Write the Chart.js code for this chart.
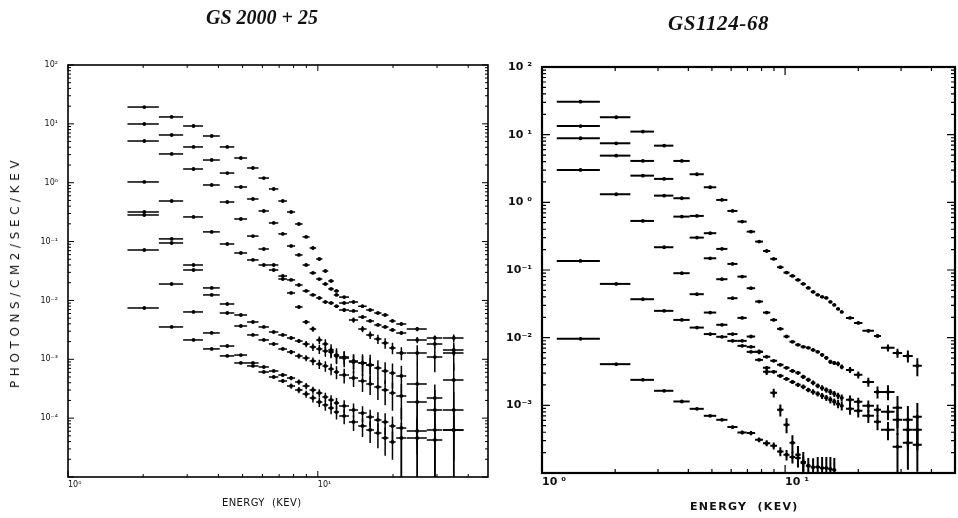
<!DOCTYPE html>
<html>
<head>
<meta charset="utf-8">
<title>Ginga LAC spectra</title>
<script src="https://cdn.jsdelivr.net/npm/chart.js@4.4.1/dist/chart.umd.min.js"></script>
<style>
    html, body { margin: 0; padding: 0; background: #fff; }
    #wrap { position: relative; width: 958px; height: 518px; overflow: hidden; color: #111; }
    canvas { position: absolute; top: 0; }
    #leftChart { left: 0; }
    #rightChart { left: 490px; }
    .title { position: absolute; font: italic bold 20px "Liberation Serif", serif; white-space: nowrap; }
    .axis-title { position: absolute; font-family: "DejaVu Sans", sans-serif; white-space: nowrap; }
</style>
</head>
<body>
<div id="wrap">
    <canvas id="leftChart" width="490" height="518"></canvas>
    <canvas id="rightChart" width="468" height="518"></canvas>
    <div class="title" style="left:206px; top:6px;">GS 2000 + 25</div>
    <div class="title" style="left:668px; top:11px; font-size:21px; letter-spacing:0.6px;">GS1124-68</div>
    <div class="axis-title" style="left:15px; top:272px; font-size:12px; letter-spacing:4.6px; transform:translate(-50%,-50%) rotate(-90deg);">PHOTONS/CM2/SEC/KEV</div>
    <div class="axis-title" style="left:222px; top:497px; font-size:10px; letter-spacing:0.4px;">ENERGY&nbsp;&nbsp;(KEV)</div>
    <div class="axis-title" style="left:690px; top:500px; font-size:11px; font-weight:bold; letter-spacing:1.3px;">ENERGY&nbsp;&nbsp;(KEV)</div>
</div>

<script>
// ---------- GS 2000+25 : energy bins (keV) and photon fluxes ----------
const gsaEnergy = [2.02, 2.60, 3.18, 3.76, 4.34, 4.92, 5.50, 6.08, 6.66, 7.24, 7.82, 8.40, 8.98, 9.56,
    10.14, 10.72, 11.30, 11.88, 12.75, 13.9, 15.1, 16.2, 17.4, 18.6, 19.9, 21.6, 25.0, 29.4, 35.0];
const gsaHalfWidth = [0.29, 0.29, 0.29, 0.29, 0.29, 0.29, 0.29, 0.29, 0.29, 0.29, 0.29, 0.29, 0.29, 0.29,
    0.29, 0.29, 0.29, 0.29, 0.58, 0.58, 0.58, 0.58, 0.58, 0.58, 0.58, 1.0, 2.3, 2.1, 3.3];

const gsaFlux1 = [19.3, 13.1, 9.20, 6.22, 4.05, 2.63, 1.78, 1.20, 0.782, 0.489, 0.318, 0.199, 0.120, 0.0778,
    0.0506, 0.0316, 0.0214, 0.0145, 0.0114, 0.0094, 0.0080, 0.00688, 0.00612, 0.00566, 0.00448, 0.00398, 0.00327, 0.00230, 0.00230];
const gsaFlux2 = [9.95, 6.47, 4.05, 2.43, 1.46, 0.846, 0.529, 0.331, 0.207, 0.135, 0.0841, 0.0592, 0.0400, 0.0293,
    0.0231, 0.0190, 0.0157, 0.0124, 0.00905, 0.00662, 0.00523, 0.00448, 0.00383, 0.00354, 0.00315, 0.00280, 0.00213, 0.00182, 0.00144];
const gsaFlux3 = [5.11, 3.08, 1.71, 0.915, 0.470, 0.242, 0.124, 0.0748, 0.0400, 0.0231, 0.0134, 0.00774, 0.00430, 0.00327,
    0.00213, 0.00182, 0.00144, 0.00118, 0.00105, 0.000900, 0.000866, 0.000800, null, null, null, null, null, null, null];
const gsaFlux4 = [1.03, 0.489, 0.262, 0.146, 0.0910, 0.0640, 0.0487, 0.0400, 0.0329, 0.0260, 0.0223, 0.0183, 0.0145, 0.0124,
    0.0110, 0.0094, 0.00905, 0.0080, 0.00688, 0.00465, 0.00327, 0.00259, 0.00221, 0.00189, 0.00156, 0.00128, 0.00128, 0.00109, 0.00128];
const gsaFlux5 = [0.318, 0.111, 0.0400, 0.0163, 0.00870, 0.00566, 0.00430, 0.00354, 0.00291, 0.00259, 0.00230, 0.00205, 0.00182, 0.00162,
    0.00150, 0.00138, 0.00133, 0.00114, 0.00109, 0.000936, 0.000866, 0.000800, 0.000712, 0.000633, 0.000585, 0.000520, 0.000381, 0.000220, 0.000445];
const gsaFlux6 = [0.283, 0.0946, 0.0329, 0.0124, 0.00612, 0.00368, 0.00259, 0.00213, 0.00182, 0.00150, 0.00133, 0.00114, 0.00105, 0.000936,
    0.000832, 0.000770, 0.000685, 0.000609, 0.000541, 0.000481, 0.000428, 0.000381, 0.000338, 0.000301, 0.000268, 0.000238, 0.000188, 0.000138, 0.000138];
const gsaFlux7 = [0.0719, 0.0190, 0.00637, 0.00280, 0.00168, 0.00118, 0.000866, 0.000740, 0.000633, 0.000541, 0.000481, 0.000412, 0.000352, 0.000301,
    0.000268, 0.000229, 0.000204, 0.000181, 0.000161, 0.000138, 0.000122, 0.000105, 0.0000931, 0.0000861, 0.0000736, 0.0000681, 0.0000605, 0.0000630, 0.0000630];
const gsaFlux8 = [0.00744, 0.00354, 0.00213, 0.00150, 0.00114, 0.000866, 0.000770, 0.000609, 0.000500, 0.000428, 0.000352, 0.000301, 0.000257, 0.000220,
    0.000188, 0.000167, 0.000149, 0.000127, 0.000109, 0.0000861, 0.0000736, 0.0000630, 0.0000560, 0.0000460, 0.0000394, 0.0000460, 0.0000460, 0.0000426, 0.0000630];

// fractional 1-sigma errors (>= 1 means the lower bar runs off the axis)
const gsaErr1 = [0, 0, 0, 0, 0, 0, 0, 0, 0, 0, 0, 0, 0, 0, 0, 0, 0, 0, 0, 0.03, 0.03, 0.04, 0.04, 0.05, 0.05, 0.06, 0.08, 0.1, 0.15];
const gsaErr2 = [0, 0, 0, 0, 0, 0, 0, 0, 0, 0, 0, 0, 0, 0, 0, 0, 0, 0, 0.04, 0.04, 0.05, 0.05, 0.06, 0.06, 0.07, 0.08, 0.12, 0.15, 0.2];
const gsaErr3 = [0, 0, 0, 0, 0, 0, 0, 0, 0, 0, 0, 0.05, 0.08, 0.1, 0.15, 0.2, 0.25, 0.3, 0.3, 0.35, 0.4, 0.5, null, null, null, null, null, null, null];
const gsaErr4 = [0, 0, 0, 0, 0, 0, 0, 0, 0, 0, 0, 0, 0, 0, 0, 0, 0, 0.05, 0.08, 0.1, 0.12, 0.15, 0.18, 0.2, 0.22, 0.25, 0.35, 0.45, 0.5];
const gsaErr5 = [0, 0, 0, 0, 0, 0, 0, 0, 0, 0.05, 0.06, 0.08, 0.12, 0.15, 0.18, 0.2, 0.22, 0.25, 0.25, 0.28, 0.3, 0.3, 0.35, 0.4, 0.45, 0.5, 1.2, 0.7, 0.9];
const gsaErr6 = [0, 0, 0, 0, 0, 0, 0, 0, 0, 0.06, 0.08, 0.1, 0.12, 0.15, 0.18, 0.2, 0.22, 0.25, 0.28, 0.3, 0.35, 0.35, 0.4, 0.45, 0.5, 0.6, 0.8, 1.2, 1.0];
const gsaErr7 = [0, 0, 0, 0, 0, 0, 0, 0, 0.05, 0.06, 0.08, 0.1, 0.12, 0.14, 0.16, 0.18, 0.2, 0.22, 0.25, 0.28, 0.3, 0.32, 0.35, 0.4, 0.45, 1.2, 0.6, 1.1, 0.7];
const gsaErr8 = [0, 0, 0, 0, 0, 0, 0, 0.05, 0.06, 0.08, 0.1, 0.12, 0.14, 0.16, 0.18, 0.2, 0.22, 0.25, 0.28, 0.3, 0.35, 0.4, 0.45, 0.5, 0.5, 0.8, 1.3, 0.9, 1.2];

// ---------- GS 1124-68 ----------
const gsbEnergy = [1.44, 2.02, 2.60, 3.18, 3.76, 4.34, 4.92, 5.50, 6.08, 6.66, 7.24, 7.82, 8.40, 8.98,
    9.56, 10.14, 10.72, 11.30, 11.88, 12.46, 13.04, 13.62, 14.20, 14.78, 15.36, 15.94, 16.52, 17.10,
    18.5, 20.0, 22.0, 24.0, 26.5, 29.0, 32.0, 35.0];
const gsbHalfWidth = [0.29, 0.29, 0.29, 0.29, 0.29, 0.29, 0.29, 0.29, 0.29, 0.29, 0.29, 0.29, 0.29, 0.29,
    0.29, 0.29, 0.29, 0.29, 0.29, 0.29, 0.29, 0.29, 0.29, 0.29, 0.29, 0.29, 0.29, 0.29,
    0.7, 0.8, 1.2, 0.8, 1.7, 1.3, 1.5, 1.5];

const gsbFlux1 = [30.7, 18.1, 11.1, 6.88, 4.09, 2.60, 1.67, 1.085, 0.746, 0.519, 0.369, 0.263, 0.191, 0.146,
    0.110, 0.0915, 0.0818, 0.0714, 0.0623, 0.0544, 0.0475, 0.0429, 0.0401, 0.0387, 0.0338, 0.0305, 0.0266, 0.0240,
    0.0196, 0.0165, 0.0126, 0.0106, 0.00707, 0.00596, 0.00538, 0.00383];
const gsbFlux2 = [13.4, 7.46, 4.09, 2.22, 1.15, 0.630, 0.350, 0.205, 0.123, 0.0799, 0.0538, 0.0342, 0.0235, 0.0183,
    0.0135, 0.0104, 0.00867, 0.00783, 0.00731, 0.00707, 0.00660, 0.00617, 0.00557, 0.00503, 0.00439, 0.00424, 0.00410, 0.00370,
    0.00334, 0.00282, 0.00222, 0.00158, 0.00158, 0.000918, 0.000611, 0.000676];
const gsbFlux3 = [8.85, 4.90, 2.48, 1.256, 0.615, 0.301, 0.149, 0.0731, 0.0383, 0.0196, 0.0104, 0.00617, 0.00313, 0.00153,
    0.000858, 0.000515, 0.000279, 0.000186, 0.000146, null, null, null, null, null, null, null, null, null,
    null, null, null, null, null, null, null, null];
const gsbFlux4 = [3.01, 1.317, 0.531, 0.217, 0.0897, 0.0439, 0.0235, 0.0155, 0.0113, 0.00897, 0.00731, 0.00617, 0.00521, 0.00454,
    0.00397, 0.00358, 0.00323, 0.00302, 0.00264, 0.00238, 0.00215, 0.00194, 0.00181, 0.00169, 0.00158, 0.00148, 0.00138, 0.00129,
    0.00121, 0.00113, 0.000983, 0.000858, 0.000802, 0.000611, 0.000435, 0.000435];
const gsbFlux5 = [0.136, 0.0623, 0.0370, 0.0249, 0.0183, 0.0141, 0.0113, 0.0103, 0.00897, 0.00757, 0.00617, 0.00470, 0.00358, 0.00313,
    0.00273, 0.00246, 0.00222, 0.00201, 0.00188, 0.00169, 0.00158, 0.00148, 0.00138, 0.00129, 0.00121, 0.00113, 0.00105, 0.000983,
    0.000888, 0.000829, 0.000700, 0.000571, 0.000435, 0.000244, 0.000279, 0.000261];
const gsbFlux6 = [0.00960, 0.00406, 0.00238, 0.00164, 0.00114, 0.000888, 0.000700, 0.000611, 0.000477, 0.000397, 0.000389, 0.000309, 0.000276, 0.000252,
    0.000208, 0.000186, 0.000172, 0.000166, 0.000140, 0.000128, 0.000122, 0.000123, 0.000119, 0.000119, 0.000115, 0.000111, null, null,
    null, null, null, null, null, null, null, null];

const gsbErr1 = [0, 0, 0, 0, 0, 0, 0, 0, 0, 0, 0, 0, 0, 0, 0, 0, 0, 0, 0, 0, 0, 0, 0, 0, 0, 0, 0, 0,
    0.03, 0.04, 0.05, 0.06, 0.12, 0.15, 0.2, 0.3];
const gsbErr2 = [0, 0, 0, 0, 0, 0, 0, 0, 0, 0, 0, 0, 0, 0, 0, 0, 0.03, 0.03, 0.04, 0.04, 0.05, 0.05, 0.06, 0.06, 0.07, 0.07, 0.08, 0.08,
    0.1, 0.12, 0.15, 0.2, 0.25, 0.5, 0.6, 0.6];
const gsbErr3 = [0, 0, 0, 0, 0, 0, 0, 0, 0, 0, 0, 0.08, 0.1, 0.15, 0.2, 0.25, 0.3, 0.35, 0.4, null, null, null, null, null, null, null, null, null,
    null, null, null, null, null, null, null, null];
const gsbErr4 = [0, 0, 0, 0, 0, 0, 0, 0, 0, 0, 0, 0, 0.04, 0.04, 0.05, 0.05, 0.06, 0.06, 0.07, 0.07, 0.08, 0.08, 0.09, 0.09, 0.1, 0.1, 0.11, 0.12,
    0.15, 0.15, 0.2, 0.2, 0.25, 0.4, 0.5, 0.5];
const gsbErr5 = [0, 0, 0, 0, 0, 0, 0, 0, 0, 0, 0, 0, 0.05, 0.05, 0.06, 0.06, 0.07, 0.07, 0.08, 0.08, 0.09, 0.09, 0.1, 0.1, 0.12, 0.12, 0.14, 0.15,
    0.18, 0.2, 0.22, 0.25, 0.3, 0.6, 0.6, 0.6];
const gsbErr6 = [0, 0, 0, 0, 0, 0, 0, 0, 0.05, 0.06, 0.07, 0.08, 0.1, 0.12, 0.15, 0.18, 0.2, 0.22, 0.25, 0.3, 0.35, 0.4, 0.45, 0.45, 0.5, 0.5, null, null,
    null, null, null, null, null, null, null, null];

// axis ticks that carry a label
const gsaYLabels = [1e-4, 1e-3, 1e-2, 1e-1, 1, 10, 100];
const gsbYLabels = [1e-3, 1e-2, 1e-1, 1, 10, 100];
const energyLabels = [1, 10];

const SUP = { '-': '\u207B', '0': '\u2070', '1': '\u00B9', '2': '\u00B2', '3': '\u00B3',
    '4': '\u2074', '5': '\u2075', '6': '\u2076', '7': '\u2077', '8': '\u2078', '9': '\u2079' };

// "10" followed by a superscript exponent
function powerLabel(value, spaced) {
    const e = Math.round(Math.log10(value));
    const exp = String(e).split('').map(c => SUP[c]).join('');
    return '10' + (spaced && e >= 0 ? ' ' : '') + exp;
}

// one spectrum: a dot per bin, the bin width and the error bar come from the plugin below
function spectrum(energy, halfWidth, flux, err) {
    return {
        data: energy.map((e, i) => ({ x: e, y: flux[i] })),
        halfWidth: halfWidth,
        relErr: err,
        showLine: false,
        pointRadius: 1.9,
        pointHoverRadius: 1.9,
        pointBorderWidth: 0,
        backgroundColor: '#000',
        borderColor: '#000'
    };
}

// horizontal bin bars and vertical error bars
const binBars = {
    id: 'binBars',
    afterDatasetsDraw(chart, args, opts) {
        const { ctx, chartArea: a, scales: { x, y } } = chart;
        ctx.save();
        ctx.beginPath();
        ctx.rect(a.left, a.top, a.right - a.left, a.bottom - a.top);
        ctx.clip();
        ctx.strokeStyle = '#000';
        ctx.lineWidth = opts.width;
        chart.data.datasets.forEach(ds => {
            ds.data.forEach((p, i) => {
                if (p.y == null) return;
                const hw = ds.halfWidth[i];
                const r = ds.relErr[i] || 0;
                const py = y.getPixelForValue(p.y);
                ctx.beginPath();
                ctx.moveTo(x.getPixelForValue(p.x - hw), py);
                ctx.lineTo(x.getPixelForValue(p.x + hw), py);
                if (r > 0) {
                    const px = x.getPixelForValue(p.x);
                    const low = r >= 1 ? a.bottom : y.getPixelForValue(p.y * (1 - r));
                    ctx.moveTo(px, y.getPixelForValue(p.y * (1 + r)));
                    ctx.lineTo(px, low);
                }
                ctx.stroke();
            });
        });
        ctx.restore();
    }
};

// closed frame with inward major/minor ticks on all four sides
const frameTicks = {
    id: 'frameTicks',
    afterDraw(chart, args, opts) {
        const { ctx, chartArea: a, scales: { x, y } } = chart;
        ctx.save();
        ctx.strokeStyle = '#000';
        ctx.lineWidth = opts.frame;
        ctx.strokeRect(a.left, a.top, a.right - a.left, a.bottom - a.top);
        ctx.lineWidth = opts.tick;
        ctx.beginPath();
        const logTicks = (scale, draw) => {
            for (let d = Math.floor(Math.log10(scale.min)); d <= Math.ceil(Math.log10(scale.max)); d++) {
                for (let m = 1; m <= 9; m++) {
                    const v = m * Math.pow(10, d);
                    if (v < scale.min * 0.999 || v > scale.max * 1.001) continue;
                    draw(scale.getPixelForValue(v), m === 1 ? opts.major : opts.minor);
                }
            }
        };
        logTicks(y, (py, len) => {
            ctx.moveTo(a.left, py); ctx.lineTo(a.left + len, py);
            ctx.moveTo(a.right, py); ctx.lineTo(a.right - len, py);
        });
        logTicks(x, (px, len) => {
            ctx.moveTo(px, a.bottom); ctx.lineTo(px, a.bottom - len);
            ctx.moveTo(px, a.top); ctx.lineTo(px, a.top + len);
        });
        ctx.stroke();
        ctx.restore();
    }
};

function makeChart(id, cfg) {
    return new Chart(document.getElementById(id), {
        type: 'scatter',
        data: { datasets: cfg.datasets },
        plugins: [binBars, frameTicks],
        options: {
            responsive: false,
            animation: false,
            events: [],
            layout: { padding: cfg.padding },
            plugins: {
                legend: { display: false },
                tooltip: { enabled: false },
                binBars: { width: cfg.barWidth },
                frameTicks: cfg.frame
            },
            scales: {
                x: {
                    type: 'logarithmic',
                    min: 1,
                    max: cfg.xMax,
                    grid: { display: false, drawTicks: false, tickLength: 0 },
                    border: { display: false },
                    afterFit: s => { s.height = cfg.xHeight; },
                    afterBuildTicks: s => { s.ticks = energyLabels.map(v => ({ value: v })); },
                    ticks: {
                        autoSkip: false,
                        maxRotation: 0,
                        align: 'start',
                        padding: cfg.xPad,
                        color: '#111',
                        font: cfg.font,
                        callback: v => powerLabel(v, cfg.spaced)
                    }
                },
                y: {
                    type: 'logarithmic',
                    min: cfg.yMin,
                    max: 100,
                    grid: { display: false, drawTicks: false, tickLength: 0 },
                    border: { display: false },
                    afterFit: s => { s.width = cfg.yWidth; },
                    afterBuildTicks: s => { s.ticks = cfg.yLabels.map(v => ({ value: v })); },
                    ticks: {
                        autoSkip: false,
                        padding: cfg.yPad,
                        color: '#111',
                        font: cfg.font,
                        callback: v => powerLabel(v, cfg.spaced)
                    }
                }
            }
        }
    });
}

makeChart('leftChart', {
    datasets: [
        spectrum(gsaEnergy, gsaHalfWidth, gsaFlux1, gsaErr1),
        spectrum(gsaEnergy, gsaHalfWidth, gsaFlux2, gsaErr2),
        spectrum(gsaEnergy, gsaHalfWidth, gsaFlux3, gsaErr3),
        spectrum(gsaEnergy, gsaHalfWidth, gsaFlux4, gsaErr4),
        spectrum(gsaEnergy, gsaHalfWidth, gsaFlux5, gsaErr5),
        spectrum(gsaEnergy, gsaHalfWidth, gsaFlux6, gsaErr6),
        spectrum(gsaEnergy, gsaHalfWidth, gsaFlux7, gsaErr7),
        spectrum(gsaEnergy, gsaHalfWidth, gsaFlux8, gsaErr8)
    ],
    padding: { top: 65, right: 2, left: 0, bottom: 0 },
    xMax: 48,
    yMin: 1e-5,
    yLabels: gsaYLabels,
    xHeight: 41,
    yWidth: 68,
    xPad: 3,
    yPad: 10,
    spaced: false,
    font: { family: 'DejaVu Sans', size: 8 },
    barWidth: 1.5,
    frame: { frame: 1.6, tick: 1, major: 6, minor: 3 }
});

makeChart('rightChart', {
    datasets: [
        spectrum(gsbEnergy, gsbHalfWidth, gsbFlux1, gsbErr1),
        spectrum(gsbEnergy, gsbHalfWidth, gsbFlux2, gsbErr2),
        spectrum(gsbEnergy, gsbHalfWidth, gsbFlux3, gsbErr3),
        spectrum(gsbEnergy, gsbHalfWidth, gsbFlux4, gsbErr4),
        spectrum(gsbEnergy, gsbHalfWidth, gsbFlux5, gsbErr5),
        spectrum(gsbEnergy, gsbHalfWidth, gsbFlux6, gsbErr6)
    ],
    padding: { top: 67, right: 3, left: 0, bottom: 0 },
    xMax: 50,
    yMin: 1e-4,
    yLabels: gsbYLabels,
    xHeight: 45,
    yWidth: 52,
    xPad: 3,
    yPad: 10,
    spaced: true,
    font: { family: 'DejaVu Sans', size: 11, weight: 'bold' },
    barWidth: 2,
    frame: { frame: 2.2, tick: 1.2, major: 8, minor: 4 }
});
</script>
</body>
</html>
